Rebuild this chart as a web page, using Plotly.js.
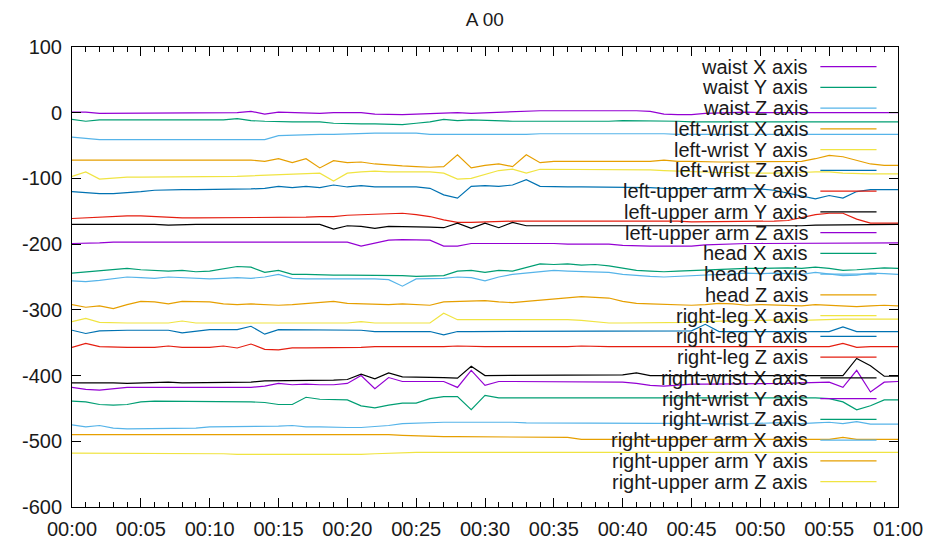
<!DOCTYPE html>
<html><head><meta charset="utf-8">
<script src="https://cdn.plot.ly/plotly-3.0.1.min.js"></script>
<style>html,body{margin:0;padding:0;background:#fff}#chart{width:927px;height:540px}</style>
</head><body><div id="chart"></div>
<script>
const T = [0,1,2,3,4,5,6,7,8,9,10,11,12,13,14,15,16,17,18,19,20,21,22,23,24,25,26,27,28,29,30,31,32,33,34,35,36,37,38,39,40,41,42,43,44,45,46,47,48,49,50,51,52,53,54,55,56,57,58,59,60];
const TICK_VALUES = [0,5,10,15,20,25,30,35,40,45,50,55,60];
const TICK_LABELS = ['00:00','00:05','00:10','00:15','00:20','00:25','00:30','00:35','00:40','00:45','00:50','00:55','01:00'];
const Y_TICKS = [-600,-500,-400,-300,-200,-100,0,100];
const Y_TICK_LABELS = ['-600','-500','-400','-300','-200','-100','0','100'];
const TITLE = 'A 00';
const NAMES = ['waist X axis','waist Y axis','waist Z axis','left-wrist X axis','left-wrist Y axis','left-wrist Z axis',
 'left-upper arm X axis','left-upper arm Y axis','left-upper arm Z axis','head X axis','head Y axis','head Z axis',
 'right-leg X axis','right-leg Y axis','right-leg Z axis','right-wrist X axis','right-wrist Y axis','right-wrist Z axis',
 'right-upper arm X axis','right-upper arm Y axis','right-upper arm Z axis'];
const COLORS = ['#9400d3','#009e73','#56b4e9','#e69f00','#f0e442','#0072b2','#e51e10','#000000'];

const waistX = [1,1,-1,-1,-1,-1,-1,0,-1,-1, -1,-1,0,2,-2,1,0,0,-1,0, 0,0,-2,-3,-3,-2,-1,0,0,-1, 0,1,2,3,3,3,3,4,3,3, 3,3,2,-2,-3,-3,-1,0,1,1, 0,0,1,1,0,1,0,1,0,0, 0];
const waistY = [-10,-13,-11,-11,-11,-11,-11,-11,-11,-11, -11,-11,-9,-12,-13,-14,-14,-14,-14,-16, -17,-17,-17,-18,-18,-16,-14,-10,-12,-11, -12,-13,-13,-13,-13,-14,-14,-13,-13,-13, -12,-12,-13,-13,-13,-14,-14,-13,-13,-14, -14,-14,-13,-13,-14,-14,-13,-13,-14,-14, -14];
const waistZ = [-37,-39,-41,-41,-41,-41,-41,-41,-40,-40, -40,-40,-40,-40,-41,-35,-34,-34,-33,-33, -32,-31,-31,-31,-31,-31,-33,-33,-34,-34, -34,-33,-33,-33,-32,-32,-32,-32,-31,-31, -31,-31,-32,-32,-33,-33,-33,-33,-32,-32, -32,-32,-32,-33,-33,-33,-32,-33,-33,-33, -33];
const leftWristX = [-72,-72,-72,-72,-72,-72,-72,-72,-72,-72, -72,-72,-72,-72,-74,-70,-76,-70,-84,-73, -76,-75,-78,-80,-81,-82,-83,-82,-64,-84, -80,-78,-82,-64,-76,-74,-74,-74,-74,-74, -74,-74,-74,-72,-74,-74,-75,-75,-75,-75, -75,-75,-75,-74,-70,-65,-67,-72,-78,-80, -80];
const leftWristY = [-97,-90,-101,-99,-98,-98,-98,-97,-97,-97, -97,-97,-97,-96,-95,-94,-93,-92,-92,-104, -92,-90,-89,-90,-90,-91,-90,-92,-101,-100, -94,-88,-86,-92,-86,-86,-87,-87,-86,-86, -86,-86,-87,-88,-89,-90,-90,-91,-91,-92, -92,-92,-92,-91,-90,-90,-92,-93,-93,-93, -93];
const leftWristZ = [-120,-122,-123,-123,-122,-120,-118,-117,-117,-117, -117,-117,-117,-116,-115,-112,-114,-112,-114,-110, -113,-111,-113,-113,-113,-113,-115,-125,-130,-112, -111,-112,-110,-102,-112,-113,-113,-113,-113,-113, -113,-114,-114,-115,-115,-115,-115,-115,-115,-116, -116,-118,-122,-127,-131,-126,-130,-120,-117,-117, -117];
const leftUpperArmX = [-161,-160,-158,-157,-157,-157,-158,-160,-160,-160, -160,-160,-160,-160,-160,-160,-160,-159,-158,-158, -156,-155,-154,-154,-153,-155,-158,-163,-167,-167, -166,-166,-165,-165,-165,-164,-164,-165,-165,-165, -165,-165,-165,-165,-165,-166,-166,-166,-166,-165, -165,-165,-164,-160,-155,-153,-153,-162,-168,-168, -168];
const leftUpperArmY = [-170,-170,-170,-169,-170,-170,-170,-171,-170,-170, -170,-170,-170,-170,-169,-169,-169,-169,-170,-177, -172,-173,-176,-173,-173,-174,-174,-175,-168,-176, -168,-175,-167,-172,-172,-172,-172,-173,-173,-173, -173,-173,-173,-173,-173,-172,-172,-172,-172,-172, -172,-172,-172,-172,-171,-171,-170,-171,-170,-170, -170];
const leftUpperArmZ = [-199,-199,-198,-197,-197,-197,-197,-197,-197,-197, -197,-197,-197,-197,-197,-197,-197,-197,-197,-196, -197,-203,-198,-194,-193,-193,-194,-203,-203,-199, -199,-198,-198,-199,-199,-199,-200,-200,-200,-200, -202,-203,-203,-203,-203,-203,-201,-200,-199,-199, -199,-199,-198,-198,-198,-198,-198,-198,-198,-198, -198];
const headX = [-244,-242,-240,-238,-237,-239,-240,-241,-240,-242, -241,-237,-234,-235,-243,-240,-246,-246,-247,-247, -247,-247,-247,-247,-248,-249,-249,-248,-241,-240, -243,-240,-241,-236,-230,-231,-230,-232,-231,-233, -237,-240,-241,-242,-241,-240,-239,-238,-238,-237, -237,-236,-236,-237,-235,-237,-240,-239,-238,-236, -237];
const headY = [-256,-257,-255,-252,-250,-251,-252,-250,-251,-252, -253,-252,-251,-252,-250,-246,-252,-253,-253,-252, -253,-253,-253,-254,-264,-253,-253,-252,-250,-251, -256,-250,-246,-244,-241,-240,-241,-242,-243,-243, -246,-248,-249,-250,-249,-248,-247,-246,-246,-244, -245,-244,-245,-246,-243,-245,-248,-247,-244,-245, -246];
const headZ = [-292,-296,-294,-298,-292,-287,-288,-291,-287,-287, -288,-291,-292,-291,-292,-293,-292,-290,-288,-287, -290,-291,-292,-292,-291,-292,-293,-288,-287,-287, -286,-288,-289,-287,-285,-283,-281,-280,-281,-282, -287,-290,-291,-292,-292,-293,-292,-290,-291,-293, -292,-293,-294,-294,-292,-293,-294,-295,-294,-293, -294];
const rightLegX = [-318,-313,-319,-320,-320,-320,-320,-320,-317,-320, -320,-320,-320,-320,-320,-320,-320,-320,-320,-320, -320,-318,-320,-320,-320,-320,-320,-305,-315,-315, -315,-315,-315,-315,-315,-314,-315,-316,-318,-320, -320,-320,-320,-320,-320,-319,-318,-317,-316,-316, -316,-315,-315,-316,-315,-315,-314,-314,-314,-314, -314];
const rightLegY = [-331,-336,-332,-331,-331,-331,-331,-331,-335,-333, -330,-330,-330,-325,-337,-330,-330,-330,-330,-330, -330,-331,-333,-333,-333,-333,-333,-338,-333,-333, -333,-333,-333,-333,-333,-333,-333,-333,-333,-333, -333,-333,-333,-333,-333,-332,-322,-333,-333,-333, -333,-333,-333,-333,-333,-333,-326,-333,-333,-333, -333];
const rightLegZ = [-357,-351,-356,-357,-357,-357,-357,-355,-357,-357, -357,-355,-358,-352,-360,-361,-358,-358,-358,-358, -358,-357,-356,-356,-356,-357,-356,-356,-355,-356, -356,-356,-356,-356,-357,-356,-356,-355,-356,-356, -356,-356,-356,-356,-356,-356,-356,-356,-356,-356, -356,-356,-356,-356,-357,-356,-351,-357,-356,-356, -356];
const rightWristX = [-411,-411,-410,-411,-412,-411,-411,-410,-411,-411, -411,-411,-410,-410,-408,-408,-407,-408,-408,-407, -406,-398,-405,-396,-402,-402,-402,-403,-404,-386, -400,-400,-399,-399,-399,-399,-399,-399,-399,-399, -399,-396,-400,-400,-400,-400,-400,-400,-401,-401, -401,-401,-401,-401,-401,-401,-400,-374,-385,-401, -401];
const rightWristY = [-418,-421,-422,-420,-418,-418,-418,-418,-418,-418, -418,-418,-418,-418,-416,-412,-414,-413,-414,-414, -412,-400,-420,-403,-409,-409,-409,-409,-418,-392, -415,-409,-409,-409,-409,-409,-409,-409,-409,-409, -410,-412,-415,-416,-414,-413,-413,-413,-412,-412, -412,-412,-412,-411,-411,-410,-418,-392,-425,-410, -409];
const rightWristZ = [-439,-440,-444,-445,-444,-440,-439,-439,-439,-439, -439,-440,-440,-440,-441,-444,-444,-433,-436,-437, -437,-446,-449,-445,-442,-442,-435,-432,-432,-452, -430,-434,-434,-434,-434,-434,-434,-434,-433,-433, -434,-434,-434,-434,-434,-434,-434,-433,-433,-433, -433,-434,-434,-434,-434,-435,-440,-452,-446,-437, -437];
const rightUpperArmX = [-475,-478,-476,-480,-481,-481,-480,-481,-480,-480, -478,-478,-477,-477,-477,-477,-476,-478,-478,-479, -479,-479,-478,-476,-473,-472,-472,-471,-471,-471, -470,-471,-471,-472,-472,-472,-472,-472,-472,-472, -472,-472,-472,-473,-473,-473,-473,-473,-474,-473, -473,-472,-472,-473,-472,-471,-473,-470,-474,-474, -474];
const rightUpperArmY = [-490,-490,-490,-490,-490,-490,-490,-490,-490,-490, -490,-490,-489,-489,-489,-489,-489,-489,-489,-489, -489,-489,-490,-490,-491,-492,-492,-493,-493,-493, -493,-493,-493,-493,-493,-493,-494,-497,-497,-497, -497,-497,-497,-497,-497,-497,-497,-497,-497,-497, -497,-497,-497,-497,-497,-497,-494,-497,-497,-497, -497];
const rightUpperArmZ = [-518,-518,-518,-519,-519,-519,-519,-519,-519,-519, -519,-519,-520,-520,-521,-521,-521,-521,-521,-521, -520,-520,-519,-518,-518,-517,-517,-517,-517,-517, -517,-517,-517,-516,-516,-516,-516,-516,-516,-516, -516,-516,-516,-516,-516,-517,-517,-517,-517,-517, -517,-517,-517,-517,-517,-517,-517,-517,-517,-517, -517];

const SERIES = [waistX, waistY, waistZ, leftWristX, leftWristY, leftWristZ,
  leftUpperArmX, leftUpperArmY, leftUpperArmZ, headX, headY, headZ,
  rightLegX, rightLegY, rightLegZ, rightWristX, rightWristY, rightWristZ,
  rightUpperArmX, rightUpperArmY, rightUpperArmZ];

const FONT = 'Liberation Sans, Arial, sans-serif';
const TEXT_COLOR = '#1a1a1a';

const traces = SERIES.map((ys, i) => ({
  x: T, y: ys, type: 'scatter', mode: 'lines', name: NAMES[i],
  line: {color: COLORS[i % COLORS.length], width: 1.2}, showlegend: false
}));

// gnuplot-style key: text right-aligned, sample line to the right
const PLOT_TOP = 47, PLOT_H = 460;
const KEY_FIRST = 66.7, KEY_STEP = 20.75;
const annotations = [], shapes = [];
NAMES.forEach((n, i) => {
  const py = KEY_FIRST + KEY_STEP * i;
  const yp = 1 - (py - PLOT_TOP) / PLOT_H;
  annotations.push({xref: 'paper', yref: 'paper', x: 0.894, y: yp, xanchor: 'right', yanchor: 'middle',
    text: n, showarrow: false, font: {family: FONT, size: 20, color: TEXT_COLOR}});
  shapes.push({type: 'line', xref: 'paper', yref: 'paper', x0: 0.906, x1: 0.974, y0: yp, y1: yp,
    line: {color: COLORS[i % COLORS.length], width: 1.2}});
});

const axisCommon = {
  showline: true, linecolor: '#000', linewidth: 1, mirror: 'allticks', ticks: 'inside',
  ticklen: 9, tickcolor: '#000', tickwidth: 1, showgrid: false, zeroline: false,
  tickfont: {family: FONT, size: 20, color: TEXT_COLOR}
};

const layout = {
  width: 927, height: 540,
  margin: {l: 72, r: 29, t: 47, b: 33},
  paper_bgcolor: '#fff', plot_bgcolor: '#fff',
  title: {text: TITLE, x: 0.523, xanchor: 'center', y: 0.965, yanchor: 'middle', font: {family: FONT, size: 19, color: TEXT_COLOR}},
  xaxis: Object.assign({}, axisCommon, {range: [0, 60], tickmode: 'array', tickvals: TICK_VALUES, ticktext: TICK_LABELS,
    ticklabelstandoff: 4,
    minor: {dtick: 1, ticks: 'inside', ticklen: 5, tickcolor: '#000', tickwidth: 1, showgrid: false}}),
  yaxis: Object.assign({}, axisCommon, {range: [-600, 100], tickmode: 'array', tickvals: Y_TICKS, ticktext: Y_TICK_LABELS,
    ticklabelstandoff: 5}),
  showlegend: false,
  annotations: annotations, shapes: shapes
};

Plotly.newPlot('chart', traces, layout, {staticPlot: true, displayModeBar: false});
</script>
</body></html>
